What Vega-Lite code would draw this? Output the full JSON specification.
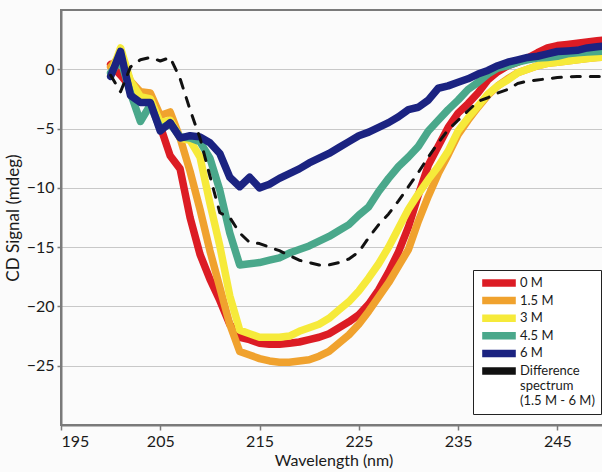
{
  "$schema": "https://vega.github.io/schema/vega-lite/v6.json",
  "width": 545,
  "height": 415,
  "autosize": {"type": "none"},
  "padding": {"left": 61, "top": 10, "right": 0, "bottom": 47},
  "background": "#fbfbfb",
  "config": {
    "view": {"stroke": "#7a7a7a", "strokeWidth": 2},
    "font": "Lato"
  },
  "data": {
    "values": [
      {"wl": 200, "a": 0.4, "b": 0.2, "c": -0.5, "d": -0.3, "e": -0.6, "f": -0.5},
      {"wl": 201, "a": -0.5, "b": 1.2, "c": 1.8, "d": 0.8, "e": 1.5, "f": -1.9},
      {"wl": 202, "a": -1.5, "b": -1.0, "c": -1.0, "d": -2.0, "e": -2.2, "f": 0.2},
      {"wl": 203, "a": -2.3, "b": -1.9, "c": -2.3, "d": -4.4, "e": -2.8, "f": 0.8},
      {"wl": 204, "a": -2.7, "b": -2.0, "c": -2.5, "d": -3.0, "e": -2.8, "f": 1.0},
      {"wl": 205, "a": -4.8, "b": -3.9, "c": -4.5, "d": -5.0, "e": -5.2, "f": 0.7},
      {"wl": 206, "a": -7.3, "b": -3.6, "c": -4.3, "d": -4.6, "e": -4.5, "f": 1.0},
      {"wl": 207, "a": -8.4, "b": -5.8, "c": -5.8, "d": -5.7, "e": -5.8, "f": -0.8},
      {"wl": 208, "a": -12.5, "b": -8.6, "c": -6.0, "d": -5.8, "e": -5.6, "f": -3.4},
      {"wl": 209, "a": -15.6, "b": -11.8, "c": -7.4, "d": -6.1, "e": -5.7, "f": -5.8},
      {"wl": 210, "a": -17.7, "b": -15.3, "c": -11.3, "d": -7.5, "e": -6.2, "f": -9.0},
      {"wl": 211, "a": -19.5, "b": -18.4, "c": -14.9, "d": -10.2, "e": -7.1, "f": -12.1},
      {"wl": 212, "a": -21.5, "b": -21.5, "c": -19.1, "d": -13.8, "e": -9.1, "f": -12.5},
      {"wl": 213, "a": -22.6, "b": -23.8, "c": -22.0, "d": -16.5, "e": -9.9, "f": -13.8},
      {"wl": 214, "a": -22.8, "b": -24.1, "c": -22.3, "d": -16.4, "e": -9.1, "f": -14.6},
      {"wl": 215, "a": -23.1, "b": -24.4, "c": -22.6, "d": -16.3, "e": -10.0, "f": -14.7},
      {"wl": 216, "a": -23.2, "b": -24.6, "c": -22.6, "d": -16.1, "e": -9.7, "f": -15.0},
      {"wl": 217, "a": -23.2, "b": -24.7, "c": -22.6, "d": -15.9, "e": -9.2, "f": -15.3},
      {"wl": 218, "a": -23.1, "b": -24.7, "c": -22.5, "d": -15.5, "e": -8.8, "f": -15.7},
      {"wl": 219, "a": -23.0, "b": -24.6, "c": -22.1, "d": -15.2, "e": -8.4, "f": -16.1},
      {"wl": 220, "a": -22.8, "b": -24.5, "c": -21.8, "d": -14.9, "e": -7.9, "f": -16.3},
      {"wl": 221, "a": -22.6, "b": -24.2, "c": -21.5, "d": -14.5, "e": -7.5, "f": -16.5},
      {"wl": 222, "a": -22.3, "b": -23.8, "c": -21.0, "d": -14.1, "e": -7.1, "f": -16.5},
      {"wl": 223, "a": -21.8, "b": -23.1, "c": -20.3, "d": -13.6, "e": -6.6, "f": -16.3},
      {"wl": 224, "a": -21.3, "b": -22.4, "c": -19.6, "d": -13.1, "e": -6.1, "f": -16.0},
      {"wl": 225, "a": -20.7, "b": -21.5, "c": -18.7, "d": -12.3, "e": -5.6, "f": -15.4},
      {"wl": 226, "a": -19.8, "b": -20.4, "c": -17.6, "d": -11.6, "e": -5.3, "f": -14.2},
      {"wl": 227, "a": -18.6, "b": -19.2, "c": -16.4, "d": -10.3, "e": -4.9, "f": -13.1},
      {"wl": 228, "a": -17.1, "b": -18.0, "c": -15.0, "d": -9.2, "e": -4.5, "f": -12.2},
      {"wl": 229, "a": -15.4, "b": -16.6, "c": -13.4, "d": -8.2, "e": -4.0, "f": -11.1},
      {"wl": 230, "a": -13.3, "b": -15.2, "c": -11.8, "d": -7.4, "e": -3.4, "f": -9.9},
      {"wl": 231, "a": -10.6, "b": -12.8, "c": -10.5, "d": -6.5, "e": -3.2, "f": -8.7},
      {"wl": 232, "a": -8.1, "b": -10.7, "c": -9.3, "d": -5.2, "e": -2.6, "f": -7.4},
      {"wl": 233, "a": -6.5, "b": -8.8, "c": -8.2, "d": -4.3, "e": -1.6, "f": -6.2},
      {"wl": 234, "a": -4.9, "b": -7.2, "c": -6.9, "d": -3.4, "e": -1.4, "f": -5.1},
      {"wl": 235, "a": -3.7, "b": -5.5, "c": -5.2, "d": -2.6, "e": -1.1, "f": -4.3},
      {"wl": 236, "a": -2.9, "b": -4.3, "c": -4.1, "d": -1.7, "e": -0.8, "f": -3.5},
      {"wl": 237, "a": -2.0, "b": -3.2, "c": -3.1, "d": -1.1, "e": -0.4, "f": -2.7},
      {"wl": 238, "a": -0.9, "b": -2.2, "c": -2.1, "d": -0.4, "e": -0.1, "f": -2.4},
      {"wl": 239, "a": -0.2, "b": -1.4, "c": -1.4, "d": 0.1, "e": 0.3, "f": -2.0},
      {"wl": 240, "a": 0.3, "b": -0.8, "c": -0.9, "d": 0.3, "e": 0.6, "f": -1.7},
      {"wl": 241, "a": 0.6, "b": -0.3, "c": -0.3, "d": 0.6, "e": 0.8, "f": -1.2},
      {"wl": 242, "a": 0.95, "b": 0.0, "c": 0.0, "d": 0.8, "e": 1.0, "f": -1.0},
      {"wl": 243, "a": 1.4, "b": 0.3, "c": 0.3, "d": 0.95, "e": 1.1, "f": -0.9},
      {"wl": 244, "a": 1.8, "b": 0.5, "c": 0.5, "d": 1.0, "e": 1.3, "f": -0.8},
      {"wl": 245, "a": 2.0, "b": 0.6, "c": 0.6, "d": 1.1, "e": 1.5, "f": -0.7},
      {"wl": 246, "a": 2.1, "b": 0.7, "c": 0.7, "d": 1.3, "e": 1.55, "f": -0.65},
      {"wl": 247, "a": 2.2, "b": 0.8, "c": 0.8, "d": 1.4, "e": 1.6, "f": -0.6},
      {"wl": 248, "a": 2.3, "b": 0.9, "c": 0.9, "d": 1.45, "e": 1.8, "f": -0.6},
      {"wl": 249, "a": 2.4, "b": 1.0, "c": 1.0, "d": 1.5, "e": 1.9, "f": -0.6},
      {"wl": 250, "a": 2.5, "b": 1.05, "c": 1.05, "d": 1.55, "e": 2.0, "f": -0.6}
    ]
  },
  "transform": [
    {"fold": ["a", "b", "c", "d", "e", "f"], "as": ["series", "cd"]}
  ],
  "encoding": {
    "x": {
      "field": "wl",
      "type": "quantitative",
      "scale": {"domain": [195, 249.9], "nice": false, "zero": false},
      "axis": {
        "values": [195, 205, 215, 225, 235, 245],
        "grid": false,
        "title": "Wavelength (nm)",
        "titleFontSize": 16,
        "titleFontWeight": "normal",
        "titleColor": "#1a1a1a",
        "titlePadding": 3,
        "labelFontSize": 16,
        "labelColor": "#1a1a1a",
        "labelPadding": 3,
        "tickColor": "#7a7a7a",
        "tickWidth": 1.5,
        "tickSize": 5,
        "domainColor": "#7a7a7a",
        "domainWidth": 2
      }
    },
    "y": {
      "field": "cd",
      "type": "quantitative",
      "scale": {"domain": [-30, 5], "nice": false, "zero": false},
      "axis": {
        "values": [-25, -20, -15, -10, -5, 0],
        "grid": true,
        "gridColor": "#c8c8c8",
        "gridWidth": 1,
        "title": "CD Signal (mdeg)",
        "titleFontSize": 17,
        "titleFontWeight": "normal",
        "titleColor": "#1a1a1a",
        "titlePadding": 4,
        "labelFontSize": 16,
        "labelColor": "#1a1a1a",
        "labelPadding": 3,
        "tickColor": "#7a7a7a",
        "tickWidth": 1.5,
        "tickSize": 4,
        "domainColor": "#7a7a7a",
        "domainWidth": 2
      }
    }
  },
  "layer": [
    {
      "transform": [{"filter": "datum.series != 'f'"}],
      "mark": {"type": "line", "clip": true, "strokeJoin": "round", "strokeCap": "round"},
      "encoding": {
        "color": {
          "field": "series",
          "type": "nominal",
          "scale": {
            "domain": ["a", "b", "c", "d", "e", "f"],
            "range": ["#dc1c24", "#f0a22e", "#f6ea3a", "#4aa88b", "#1b2381", "#111111"]
          },
          "legend": {
            "title": null,
            "orient": "none",
            "legendX": 412,
            "legendY": 260,
            "strokeColor": "#222222",
            "fillColor": "#ffffff",
            "padding": 6,
            "clipHeight": 14,
            "symbolType": "M-2.4,0H2.4",
            "symbolSize": 196,
            "symbolOffset": 9,
            "labelFont": "Lato",
            "labelFontSize": 13,
            "labelColor": "#1a1a1a",
            "labelOffset": 10,
            "labelLimit": 200,
            "rowPadding": 3.6,
            "labelExpr": "datum.label == 'a' ? '0 M' : datum.label == 'b' ? '1.5 M' : datum.label == 'c' ? '3 M' : datum.label == 'd' ? '4.5 M' : datum.label == 'e' ? '6 M' : ['Difference', 'spectrum', '(1.5 M - 6 M)']"
          }
        },
        "strokeWidth": {
          "field": "series",
          "type": "nominal",
          "scale": {
            "domain": ["a", "b", "c", "d", "e", "f"],
            "range": [7.5, 7.5, 7.5, 7.5, 7.5, 2.6]
          }
        }
      }
    },
    {
      "transform": [{"filter": "datum.series == 'f'"}],
      "mark": {"type": "line", "clip": true, "strokeJoin": "round", "strokeCap": "round", "strokeDash": [9, 10], "stroke": "#111111", "strokeWidth": 3}
    }
  ]
}
